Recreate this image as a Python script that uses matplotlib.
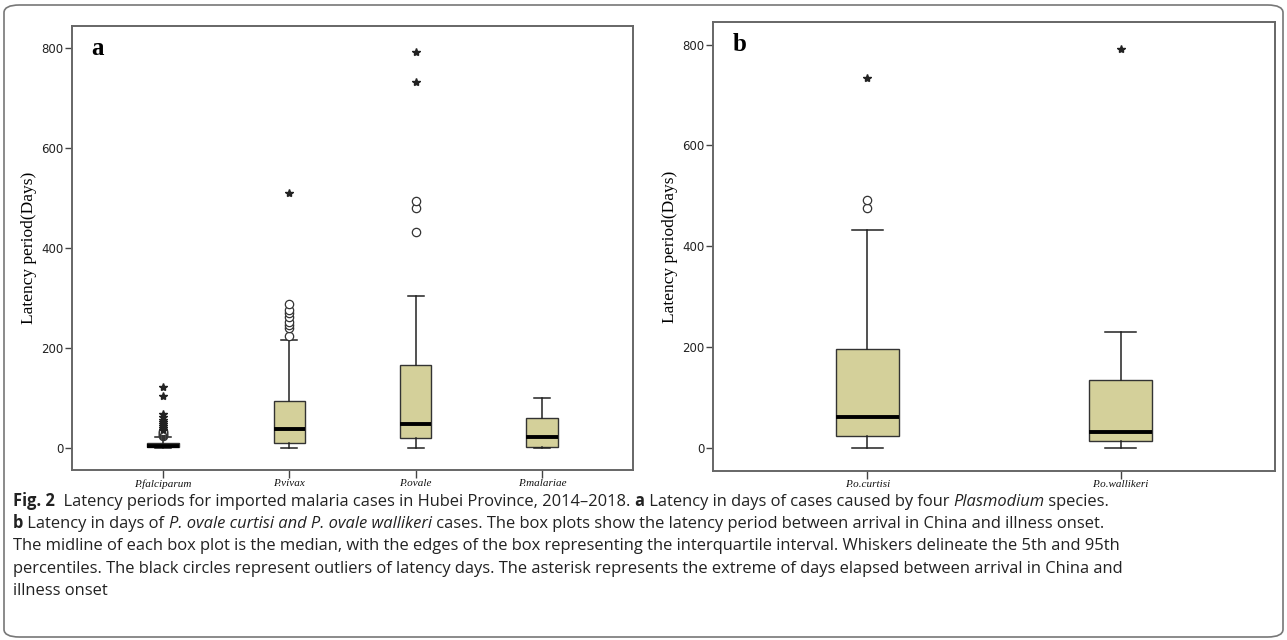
import numpy as np
import matplotlib
matplotlib.use('Agg')
from matplotlib import pyplot as plt
from matplotlib.patches import FancyBboxPatch

# panel a: four Plasmodium species
species = ['P.falciparum', 'P.vivax', 'P.ovale', 'P.malariae']
a_q1 = [2, 10, 20, 2]
a_med = [5, 38, 48, 22]
a_q3 = [10, 94, 166, 60]
a_lo = [0, 0, 0, 0]
a_hi = [22, 216, 304, 100]
a_circles = [[24, 26, 28, 30, 32, 34],
             [224, 240, 246, 252, 262, 270, 276, 288],
             [432, 480, 494],
             []]
a_stars = [[36, 40, 44, 48, 52, 56, 62, 68, 104, 122],
           [510],
           [732, 792],
           []]

# panel b: P. ovale subspecies
subspecies = ['P.o.curtisi', 'P.o.wallikeri']
b_q1 = [24, 14]
b_med = [61, 32]
b_q3 = [196, 135]
b_lo = [0, 0]
b_hi = [432, 230]
b_circles = [[476, 492], []]
b_stars = [[734], [792]]

yticks = [0, 200, 400, 600, 800]

W, H = 1287, 640
BOX = '#d4d09a'
tick_font = ['Liberation Sans Narrow', 'DejaVu Sans']


def px(x0, y0, x1, y1):
    # pixel box (from top-left) to figure fraction rect
    return [x0 / W, 1 - y1 / H, (x1 - x0) / W, (y1 - y0) / H]


def panel(ax, names, q1, med, q3, lo, hi, circles, stars, xlim, ylim, letter):
    stats = []
    for i, n in enumerate(names):
        stats.append(dict(label=n, q1=q1[i], med=med[i], q3=q3[i],
                          whislo=lo[i], whishi=hi[i], fliers=[]))
    pos = np.arange(1, len(names) + 1)
    ax.bxp(stats, positions=pos, widths=0.25, patch_artist=True,
           showfliers=False,
           boxprops=dict(facecolor=BOX, edgecolor='#333333', linewidth=1.0),
           medianprops=dict(color='black', linewidth=2.8),
           whiskerprops=dict(color='#222222', linewidth=1.1),
           capprops=dict(color='#222222', linewidth=1.1),
           capwidths=0.125)
    for p, c, s in zip(pos, circles, stars):
        if c:
            ax.plot([p] * len(c), c, 'o', ms=6, mfc='white', mec='#333333',
                    mew=0.9, ls='none')
        if s:
            ax.plot([p] * len(s), s, '*', ms=6, color='#222222', ls='none')
    ax.set_xlim(*xlim)
    ax.set_ylim(*ylim)
    ax.set_yticks(yticks)
    ax.set_yticklabels([str(v) for v in yticks], family=tick_font,
                       fontsize=8.5, color='#222222')
    ax.set_xticks(pos)
    ax.set_xticklabels(names, family='Liberation Serif', style='italic',
                       fontsize=8, color='#111111')
    ax.tick_params(axis='y', length=5, width=1, color='#444444', pad=1)
    ax.tick_params(axis='x', length=6, width=1, color='#444444', pad=0.5)
    for sp in ax.spines.values():
        sp.set_color('#666666')
        sp.set_linewidth(1.4)
    ax.set_ylabel('Latency period(Days)', family='Liberation Serif',
                  fontsize=12.5, labelpad=3)
    ax.text(0.035, 0.975, letter, transform=ax.transAxes, va='top', ha='left',
            family='Liberation Serif', fontweight='bold', fontsize=18)


fig = plt.figure(figsize=(W / 100, H / 100), dpi=100)

frame = FancyBboxPatch((4 / W, 3 / H), 1279 / W, 632 / H,
                       boxstyle='round,pad=0,rounding_size=0.012',
                       transform=fig.transFigure, fill=False,
                       edgecolor='#777777', linewidth=1.2)
fig.patches.append(frame)

ax1 = fig.add_axes(px(72, 26, 633, 470))
panel(ax1, species, a_q1, a_med, a_q3, a_lo, a_hi, a_circles, a_stars,
      (0.28, 4.72), (-44, 844), 'a')

ax2 = fig.add_axes(px(713, 22, 1275, 471))
panel(ax2, subspecies, b_q1, b_med, b_q3, b_lo, b_hi, b_circles, b_stars,
      (0.39, 2.61), (-46, 845), 'b')

# caption, drawn piece by piece so bold / italic runs line up
caption = [
    [('Fig. 2', 'b'), ('  Latency periods for imported malaria cases in Hubei Province, 2014\u20132018. ', 'n'),
     ('a', 'b'), (' Latency in days of cases caused by four ', 'n'), ('Plasmodium', 'i'), (' species.', 'n')],
    [('b', 'b'), (' Latency in days of ', 'n'), ('P. ovale curtisi and P. ovale wallikeri', 'i'),
     (' cases. The box plots show the latency period between arrival in China and illness onset.', 'n')],
    [('The midline of each box plot is the median, with the edges of the box representing the '
      'interquartile interval. Whiskers delineate the 5th and 95th', 'n')],
    [('percentiles. The black circles represent outliers of latency days. The asterisk represents '
      'the extreme of days elapsed between arrival in China and', 'n')],
    [('illness onset', 'n')],
]
base = [506, 528, 550.5, 573, 595]

fig.canvas.draw()
r = fig.canvas.get_renderer()
for parts, yb in zip(caption, base):
    x = 13
    for s, st in parts:
        t = fig.text(x / W, 1 - yb / H, s, va='baseline', ha='left',
                     family='Open Sans', fontsize=11.9, color='#222222',
                     fontweight='bold' if st == 'b' else 'normal',
                     fontstyle='italic' if st == 'i' else 'normal')
        x += t.get_window_extent(renderer=r).width

fig.savefig('out.png', dpi=100)
